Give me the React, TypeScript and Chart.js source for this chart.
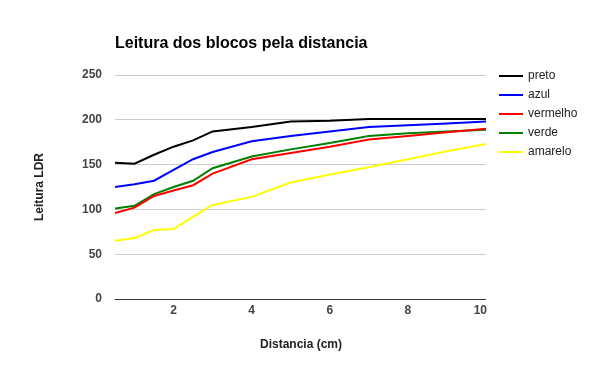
import React, { useEffect, useRef } from "react";
import { Chart, registerables } from "chart.js";

Chart.register(...registerables);

const distances = [0.5, 1, 1.5, 2, 2.5, 3, 4, 5, 6, 7, 8, 9, 10];
const preto = [152, 151, 161, 170, 177, 187, 192, 198, 199, 201, 201, 201, 201];
const azul = [125, 128, 132, 144, 156, 164, 176, 182, 187, 192, 194, 196, 198];
const vermelho = [96, 102, 115, 121, 127, 140, 156, 163, 170, 178, 182, 186, 190];
const verde = [101, 104, 117, 125, 132, 146, 159, 167, 174, 182, 185, 187, 189];
const amarelo = [65, 68, 77, 78, 92, 105, 114, 130, 139, 147, 156, 165, 173];
const xTicks = [2, 4, 6, 8, 10];
const seriesNames = ["preto", "azul", "vermelho", "verde", "amarelo"];
const seriesColors = ["#000000", "#0000ff", "#ff0000", "#008000", "#ffff00"];
const title = "Leitura dos blocos pela distancia";
const xTitle = "Distancia (cm)";
const yTitle = "Leitura LDR";

const FONT = "'Liberation Sans', Arial, sans-serif";

export default function App() {
  const ref = useRef<HTMLCanvasElement | null>(null);
  useEffect(() => {
    const canvas = ref.current!;
    const values = [preto, azul, vermelho, verde, amarelo];
    const overlay = {
      id: "overlay",
      afterDraw(chart: any) {
        const ctx = chart.ctx;
        const area = chart.chartArea;
        const xs = chart.scales.x;
        ctx.save();
        // title
        ctx.fillStyle = "#000";
        ctx.font = `bold 16px ${FONT}`;
        ctx.textAlign = "left";
        ctx.textBaseline = "middle";
        ctx.fillText(title, 115, 44);
        // x tick labels
        ctx.font = `bold 12px ${FONT}`;
        ctx.fillStyle = "#444";
        ctx.textAlign = "center";
        xTicks.forEach((t) => {
          const label = String(t);
          const w = ctx.measureText(label).width;
          let px = xs.getPixelForValue(t);
          if (px + w / 2 > area.right + 1) px = area.right + 1 - w / 2;
          ctx.fillText(label, px, 311);
        });
        // axis titles
        ctx.fillStyle = "#222";
        ctx.font = `bold 12px ${FONT}`;
        ctx.fillText(xTitle, 301, 345);
        ctx.save();
        ctx.translate(40, 187);
        ctx.rotate(-Math.PI / 2);
        ctx.fillText(yTitle, 0, 0);
        ctx.restore();
        // legend
        ctx.font = `12px ${FONT}`;
        ctx.textAlign = "left";
        seriesNames.forEach((n, i) => {
          const y = 76 + i * 19;
          ctx.strokeStyle = seriesColors[i];
          ctx.lineWidth = 2;
          ctx.beginPath();
          ctx.moveTo(499, y);
          ctx.lineTo(523, y);
          ctx.stroke();
          ctx.fillStyle = "#222";
          ctx.fillText(n, 528, y);
        });
        ctx.restore();
      },
    };
    const chart = new Chart(canvas, {
      type: "line",
      data: {
        datasets: seriesNames.map((n, i) => ({
          label: n,
          data: distances.map((d, j) => ({ x: d, y: values[i][j] })),
          borderColor: seriesColors[i],
          backgroundColor: seriesColors[i],
          borderWidth: 2,
          pointRadius: 0,
          tension: 0,
          fill: false,
        })),
      },
      options: {
        animation: false,
        responsive: false,
        maintainAspectRatio: false,
        layout: { padding: { left: 0, right: 115, top: 75, bottom: 0 } },
        plugins: {
          legend: { display: false },
          title: { display: false },
          tooltip: { enabled: false },
        },
        scales: {
          x: {
            type: "linear",
            min: 0.5,
            max: 10,
            afterBuildTicks: (s: any) => {
              s.ticks = xTicks.map((v) => ({ value: v }));
            },
            afterFit: (s: any) => {
              s.height = 72;
            },
            ticks: { display: false },
            grid: { display: false, drawTicks: false },
            border: { display: false },
          },
          y: {
            min: 0,
            max: 250,
            afterFit: (s: any) => {
              s.width = 115;
            },
            ticks: {
              stepSize: 50,
              padding: 13,
              color: "#444",
              font: { family: FONT, size: 12, weight: "bold" },
            },
            grid: {
              drawTicks: false,
              color: (c: any) => (c.tick && c.tick.value === 0 ? "#333333" : "#cccccc"),
              lineWidth: 1,
            },
            border: { display: false },
          },
        },
      },
      plugins: [overlay],
    });
    return () => chart.destroy();
  }, []);
  return (
    <div style={{ position: "fixed", left: 0, top: 0, width: 601, height: 371, background: "#fff" }}>
      <canvas ref={ref} width={601} height={371} style={{ width: 601, height: 371 }} />
    </div>
  );
}
